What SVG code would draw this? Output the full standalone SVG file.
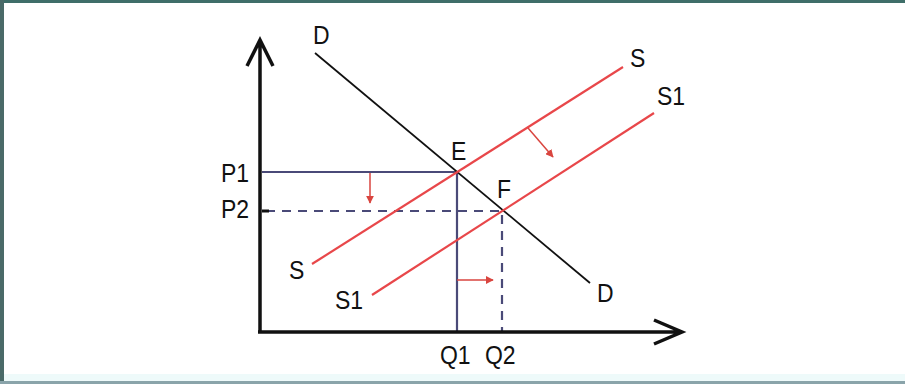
<svg xmlns="http://www.w3.org/2000/svg" width="905" height="384" viewBox="0 0 905 384">
<defs>
<style>
text{font-family:"Liberation Sans",Arial,sans-serif;font-size:23px;fill:#111}
.axis{stroke:#111;stroke-width:3.5;fill:none}
.dem{stroke:#111;stroke-width:1.8;fill:none}
.sup{stroke:#e8474a;stroke-width:2.2;fill:none}
.guide{stroke:#4a4a78;stroke-width:2.2;fill:none}
.dash{stroke:#4a4a78;stroke-width:2.2;fill:none;stroke-dasharray:9 7}
.shift{stroke:#d9453f;stroke-width:1.5;fill:none;marker-end:url(#ah)}
</style>
<marker id="ah" viewBox="0 0 10 10" refX="9" refY="5" markerWidth="8" markerHeight="8" markerUnits="userSpaceOnUse" orient="auto">
<path d="M0,0 L10,5 L0,10 z" fill="#d9453f"/>
</marker>
</defs>
<rect x="0" y="0" width="905" height="384" fill="#ffffff"/>
<rect x="0" y="374" width="905" height="8" fill="#eefafa"/>
<rect x="0" y="0" width="905" height="3" fill="#3f6e69"/>
<rect x="0" y="0" width="4" height="384" fill="#4a6a68"/>
<rect x="0" y="381" width="905" height="3" fill="#8aa4aa"/>
<g id="connectors">
<path class="guide" d="M262,172 H457 V332"/>
<path class="dash" d="M266,211 H502 V332"/>
<line x1="262" y1="211" x2="269" y2="211" stroke="#111" stroke-width="3"/>
<line class="dem" x1="315" y1="53" x2="590" y2="283"/>
<line class="sup" x1="312" y1="264" x2="623" y2="67"/>
<line class="sup" x1="372" y1="295" x2="654" y2="113"/>
<line class="shift" x1="370" y1="173" x2="370" y2="203"/>
<line class="shift" x1="457" y1="280" x2="493" y2="280"/>
<line class="shift" x1="528" y1="128" x2="553" y2="157"/>
</g>
<g id="axes">
<path class="axis" d="M260,333 V40 M247,66 L260,40 L273,66"/>
<path class="axis" d="M258,332 H682 M654,320 L682,332 L654,344"/>
</g>
<g id="labels">
<text transform="translate(313,44) scale(1,1.1)">D</text>
<text transform="translate(221,182) scale(1,1.1)">P1</text>
<text transform="translate(221,218) scale(1,1.1)">P2</text>
<text transform="translate(451,160) scale(1,1.1)">E</text>
<text transform="translate(497,198) scale(1,1.1)">F</text>
<text transform="translate(630,67) scale(1,1.1)">S</text>
<text transform="translate(657,105) scale(1,1.1)">S1</text>
<text transform="translate(597,302) scale(1,1.1)">D</text>
<text transform="translate(289,279) scale(1,1.1)">S</text>
<text transform="translate(335,309) scale(1,1.1)">S1</text>
<text transform="translate(440,364) scale(1,1.1)">Q1</text>
<text transform="translate(485,364) scale(1,1.1)">Q2</text>
</g>
</svg>
